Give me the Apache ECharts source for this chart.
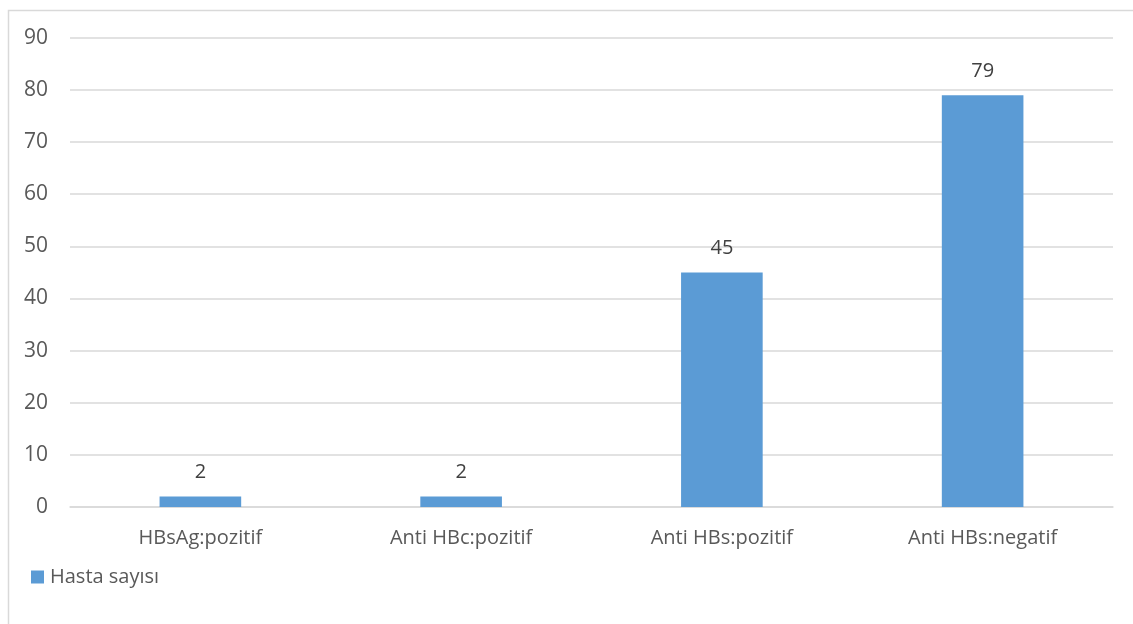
<!DOCTYPE html>
<html><head><meta charset="utf-8">
<script src="https://cdn.jsdelivr.net/npm/echarts@6/dist/echarts.min.js"></script>
<style>html,body{margin:0;padding:0;background:#fff}#c{width:1133px;height:624px}</style>
</head><body><div id="c"></div>
<script>
const categories = ['HBsAg:pozitif', 'Anti HBc:pozitif', 'Anti HBs:pozitif', 'Anti HBs:negatif'];
const seriesName = 'Hasta sayısı';
const values = [2, 2, 45, 79];

const chart = echarts.init(document.getElementById('c'), null, {renderer: 'canvas'});
const font = 'Open Sans';
chart.setOption({
  animation: false,
  graphic: [{
    type: 'rect', left: 6, top: 8, silent: true,
    shape: {width: 1140, height: 630},
    style: {fill: 'none', stroke: '#d9d9d9', lineWidth: 1.5}
  }],
  grid: {left: 70, right: 20, top: 37.8, bottom: 117, containLabel: false},
  legend: {
    left: 26, top: 562, itemWidth: 13, itemHeight: 13, itemGap: 5,
    icon: 'rect',
    textStyle: {fontFamily: font, fontSize: 20, color: '#595959', padding: [0,0,0,1]},
    data: [seriesName]
  },
  xAxis: {
    type: 'category', data: categories,
    axisLine: {lineStyle: {color: '#d9d9d9', width: 1.5}},
    axisTick: {show: false},
    axisLabel: {fontFamily: font, fontSize: 20, color: '#595959', margin: 21}
  },
  yAxis: {
    type: 'value', min: 0, max: 90, interval: 10,
    axisLine: {show: false}, axisTick: {show: false},
    splitLine: {lineStyle: {color: '#d9d9d9', width: 1.5}},
    axisLabel: {fontFamily: font, fontSize: 21, color: '#595959', margin: 22}
  },
  series: [{
    name: seriesName, type: 'bar', data: values, barWidth: '31.3%',
    itemStyle: {color: '#5b9bd5'},
    label: {show: true, position: 'top', distance: 14, fontFamily: font, fontSize: 20, color: '#404040'}
  }]
});
</script></body></html>
